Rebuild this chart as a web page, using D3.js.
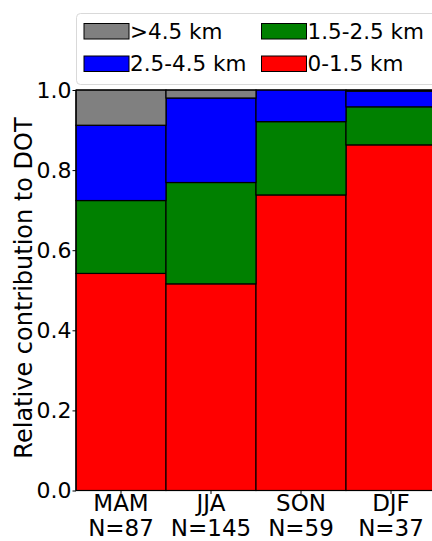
<!DOCTYPE html>
<html><head><meta charset="utf-8">
<script src="https://cdn.jsdelivr.net/npm/d3@7"></script>
<style>body{margin:0;background:#fff}svg{display:block}</style>
</head><body>
<script>
const seasons = ["MAM","JJA","SON","DJF"];
const counts = ["N=87","N=145","N=59","N=37"];
const layer0_15 = [0.542, 0.516, 0.738, 0.863];
const layer15_25 = [0.182, 0.253, 0.183, 0.095];
const layer25_45 = [0.188, 0.211, 0.079, 0.039];
const layer45 = [0.088, 0.020, 0.000, 0.003];
const seriesNames = ["0-1.5 km","1.5-2.5 km","2.5-4.5 km",">4.5 km"];
const seriesColors = ["#ff0000","#008000","#0000ff","#808080"];
const yTicks = [0,0.2,0.4,0.6,0.8,1.0];

const W=432,H=541;
const svg=d3.select("body").append("svg").attr("width",W).attr("height",H);
const font="DejaVu Sans";
const x=d3.scaleBand().domain(seasons).range([76,436]).padding(0);
const y=d3.scaleLinear().domain([0,1]).range([490.5,90]);

const rows=seasons.map((s,i)=>({season:s,"0-1.5 km":layer0_15[i],"1.5-2.5 km":layer15_25[i],"2.5-4.5 km":layer25_45[i],">4.5 km":layer45[i]}));
const stack=d3.stack().keys(seriesNames)(rows);
const g=svg.append("g");
stack.forEach((layer,li)=>{
  g.selectAll(null).data(layer).enter().append("rect")
   .attr("x",d=>x(d.data.season)).attr("width",x.bandwidth())
   .attr("y",d=>y(d[1])).attr("height",d=>y(d[0])-y(d[1]))
   .attr("fill",seriesColors[li]).attr("stroke","#000").attr("stroke-width",1.2);
});

// axes
const ya=svg.append("g").attr("transform","translate(76,0)")
 .call(d3.axisLeft(y).tickValues(yTicks).tickFormat(d3.format(".1f")).tickSize(3.5).tickPadding(1));
ya.select(".domain").remove();
ya.selectAll("text").attr("font-family",font).attr("font-size",22).attr("fill","#000");
svg.append("line").attr("x1",76).attr("x2",76).attr("y1",90).attr("y2",490.5).attr("stroke","#000").attr("stroke-width",1.2);
svg.append("line").attr("x1",76).attr("x2",432).attr("y1",490.5).attr("y2",490.5).attr("stroke","#000").attr("stroke-width",1.2);
svg.append("line").attr("x1",76).attr("x2",432).attr("y1",90).attr("y2",90).attr("stroke","#000").attr("stroke-width",1.2);

const xa=svg.append("g").attr("transform","translate(0,490.5)")
 .call(d3.axisBottom(x).tickSize(3.5).tickFormat(()=>""));
xa.select(".domain").remove();
seasons.forEach((s,i)=>{
  const cx=x(s)+x.bandwidth()/2;
  svg.append("text").attr("x",cx).attr("y",511).attr("text-anchor","middle")
   .attr("font-family",font).attr("font-size",23).text(s);
  svg.append("text").attr("x",cx).attr("y",535.5).attr("text-anchor","middle")
   .attr("font-family",font).attr("font-size",23).text(counts[i]);
});

svg.append("text").attr("transform","translate(31.5,288) rotate(-90)").attr("text-anchor","middle")
 .attr("font-family",font).attr("font-size",24).text("Relative contribution to DOT");

// legend
const lg=svg.append("g");
lg.append("rect").attr("x",76.5).attr("y",13.5).attr("width",380).attr("height",71).attr("rx",4)
 .attr("fill","#fff").attr("fill-opacity",0.8).attr("stroke","#d9d9d9");
const legendOrder=[3,1,2,0];
const pos=[[84,23.5],[261.5,23.5],[84,56],[261.5,56]];
legendOrder.forEach((si,k)=>{
  const [lx,ly]=pos[k];
  lg.append("rect").attr("x",lx).attr("y",ly).attr("width",45).attr("height",15.5)
   .attr("fill",seriesColors[si]).attr("stroke","#000").attr("stroke-width",1);
  lg.append("text").attr("x",lx+46).attr("y",ly+15).attr("font-family",font).attr("font-size",21.5)
   .text(seriesNames[si]);
});
</script>
</body></html>
